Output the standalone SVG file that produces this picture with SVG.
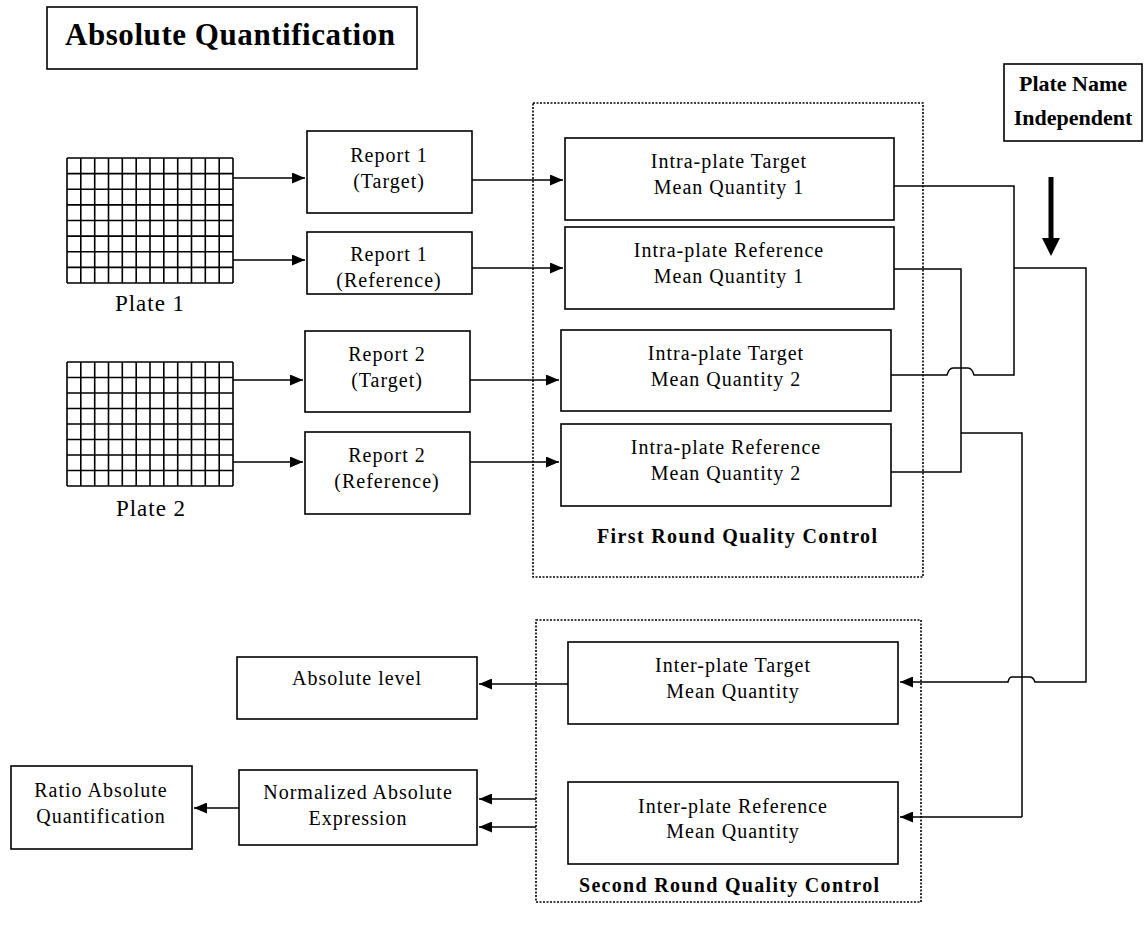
<svg xmlns="http://www.w3.org/2000/svg" width="1144" height="929" viewBox="0 0 1144 929">
<defs>
<marker id="ah" viewBox="0 0 13 11" refX="13" refY="5.5" markerWidth="13" markerHeight="11" markerUnits="userSpaceOnUse" orient="auto">
<path d="M0,0 L13,5.5 L0,11 Z" fill="#000"/>
</marker>
<style>
.box{fill:#fff;stroke:#000;stroke-width:1.6}
.dot{fill:none;stroke:#000;stroke-width:1.6;stroke-dasharray:2 1.5}
.ln{fill:none;stroke:#000;stroke-width:1.5}
.ar{fill:none;stroke:#000;stroke-width:1.5;marker-end:url(#ah)}
.grid{fill:none;stroke:#000;stroke-width:1.6}
.t{font-family:"Liberation Serif","Times New Roman",serif;font-size:20px;letter-spacing:1px;text-anchor:middle;fill:#000}
.b{font-family:"Liberation Serif","Times New Roman",serif;font-weight:bold;text-anchor:middle;fill:#000}
</style>
</defs>
<rect width="1144" height="929" fill="#fff"/>

<g id="title">
<rect class="box" x="47" y="7" width="370" height="62"/>
<text class="b" x="230" y="45" font-size="31" textLength="330" lengthAdjust="spacing">Absolute Quantification</text>
</g>

<g id="plate-name-independent">
<rect class="box" x="1004" y="64" width="138" height="77"/>
<text class="b" x="1073" y="91" font-size="22">Plate Name</text>
<text class="b" x="1073" y="125" font-size="22">Independent</text>
<path d="M1051 177V240" stroke="#000" stroke-width="5"/>
<path d="M1042 238H1060L1051 256Z" fill="#000"/>
</g>

<g id="plate1">
<rect x="67" y="158" width="166" height="125" fill="#fff"/>
<path class="grid" d="M67 158V283M80.8 158V283M94.7 158V283M108.5 158V283M122.3 158V283M136.2 158V283M150 158V283M163.8 158V283M177.7 158V283M191.5 158V283M205.3 158V283M219.2 158V283M233 158V283M67 158H233M67 173.6H233M67 189.3H233M67 204.9H233M67 220.5H233M67 236.1H233M67 251.8H233M67 267.4H233M67 283H233"/>
<text class="t" x="150" y="311" style="font-size:23px">Plate 1</text>
</g>

<g id="plate2">
<rect x="67" y="362" width="166" height="124" fill="#fff"/>
<path class="grid" d="M67 362V486M80.8 362V486M94.7 362V486M108.5 362V486M122.3 362V486M136.2 362V486M150 362V486M163.8 362V486M177.7 362V486M191.5 362V486M205.3 362V486M219.2 362V486M233 362V486M67 362H233M67 377.5H233M67 393H233M67 408.5H233M67 424H233M67 439.5H233M67 455H233M67 470.5H233M67 486H233"/>
<text class="t" x="151" y="516" style="font-size:23px">Plate 2</text>
</g>

<g id="first-round-qc">
<rect class="dot" x="533" y="103" width="390" height="474"/>
<text class="b" x="737" y="543" font-size="20" textLength="280" lengthAdjust="spacing">First Round Quality Control</text>
</g>

<g id="second-round-qc">
<rect class="dot" x="536" y="620" width="385" height="282"/>
<text class="b" x="729" y="892" font-size="20" textLength="300" lengthAdjust="spacing">Second Round Quality Control</text>
</g>

<g id="report1-target">
<rect class="box" x="307" y="131" width="165" height="82"/>
<text class="t" x="389" y="162">Report 1</text>
<text class="t" x="389" y="188">(Target)</text>
</g>

<g id="report1-reference">
<rect class="box" x="307" y="232" width="165" height="62"/>
<text class="t" x="389" y="261">Report 1</text>
<text class="t" x="389" y="287">(Reference)</text>
</g>

<g id="report2-target">
<rect class="box" x="305" y="331" width="165" height="81"/>
<text class="t" x="387" y="361">Report 2</text>
<text class="t" x="387" y="387">(Target)</text>
</g>

<g id="report2-reference">
<rect class="box" x="305" y="432" width="165" height="82"/>
<text class="t" x="387" y="462">Report 2</text>
<text class="t" x="387" y="488">(Reference)</text>
</g>

<g id="intra-target-1">
<rect class="box" x="565" y="138" width="329" height="82"/>
<text class="t" x="729" y="168">Intra-plate Target</text>
<text class="t" x="729" y="194">Mean Quantity 1</text>
</g>

<g id="intra-reference-1">
<rect class="box" x="565" y="227" width="329" height="82"/>
<text class="t" x="729" y="257">Intra-plate Reference</text>
<text class="t" x="729" y="283">Mean Quantity 1</text>
</g>

<g id="intra-target-2">
<rect class="box" x="561" y="330" width="330" height="81"/>
<text class="t" x="726" y="360">Intra-plate Target</text>
<text class="t" x="726" y="386">Mean Quantity 2</text>
</g>

<g id="intra-reference-2">
<rect class="box" x="561" y="424" width="330" height="82"/>
<text class="t" x="726" y="454">Intra-plate Reference</text>
<text class="t" x="726" y="480">Mean Quantity 2</text>
</g>

<g id="inter-target">
<rect class="box" x="568" y="642" width="330" height="82"/>
<text class="t" x="733" y="672">Inter-plate Target</text>
<text class="t" x="733" y="698">Mean Quantity</text>
</g>

<g id="inter-reference">
<rect class="box" x="568" y="782" width="330" height="82"/>
<text class="t" x="733" y="813">Inter-plate Reference</text>
<text class="t" x="733" y="838">Mean Quantity</text>
</g>

<g id="absolute-level">
<rect class="box" x="237" y="657" width="240" height="62"/>
<text class="t" x="357" y="685">Absolute level</text>
</g>

<g id="normalized-absolute-expression">
<rect class="box" x="239" y="770" width="238" height="75"/>
<text class="t" x="358" y="799">Normalized Absolute</text>
<text class="t" x="358" y="825">Expression</text>
</g>

<g id="ratio-absolute-quantification">
<rect class="box" x="11" y="766" width="181" height="83"/>
<text class="t" x="101" y="797">Ratio Absolute</text>
<text class="t" x="101" y="823">Quantification</text>
</g>

<g id="connectors">
<path class="ar" d="M233 178H305"/>
<path class="ar" d="M233 260H305"/>
<path class="ar" d="M233 380H303"/>
<path class="ar" d="M233 462H303"/>
<path class="ar" d="M472 180H563"/>
<path class="ar" d="M472 268H563"/>
<path class="ar" d="M470 380H559"/>
<path class="ar" d="M470 462H559"/>
<path class="ln" d="M894 186H1014V375H974Q972 368 968 368H953Q949 368 947 375H891"/>
<path class="ln" d="M894 269H961V472H891"/>
<path class="ln" d="M961 433H1022V817"/>
<path class="ar" d="M1022 817H900"/>
<path class="ar" d="M1014 268H1086V682H1035Q1033 677 1030 677H1012Q1009 677 1008 682H900"/>
<path class="ar" d="M568 684H479"/>
<path class="ar" d="M536 799H479"/>
<path class="ar" d="M536 827H479"/>
<path class="ar" d="M239 808H194"/>
</g>
</svg>
